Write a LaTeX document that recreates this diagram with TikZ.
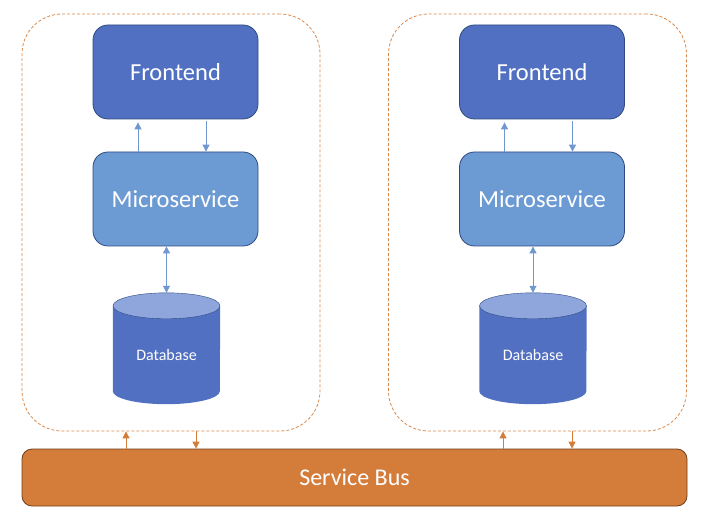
\documentclass[tikz,border=0pt]{standalone}
\usepackage{fontspec}
\setmainfont{Carlito}
\usetikzlibrary{arrows.meta, positioning}

\definecolor{frontblue}{HTML}{5170C1}
\definecolor{microblue}{HTML}{6C9AD3}
\definecolor{edgeblue}{HTML}{2F4A80}
\definecolor{dbtop}{HTML}{8FA6DC}
\definecolor{arrowblue}{HTML}{6F98D1}
\definecolor{busorange}{HTML}{D47C3A}
\definecolor{busedge}{HTML}{70401A}
\definecolor{dashorange}{HTML}{D8884A}

\begin{document}
\begin{tikzpicture}[x=1pt, y=1pt,
  container/.style = {draw=dashorange, dash pattern=on 3pt off 2pt, line width=0.8pt,
                      rounded corners=40pt, minimum width=298pt, minimum height=417pt},
  tier/.style = {draw=edgeblue, line width=0.8pt, rounded corners=15pt, text=white,
                 minimum width=165pt, minimum height=94pt, font=\fontsize{24.5}{28}\selectfont},
  dbnode/.style = {minimum width=107pt, minimum height=111pt, text=white,
                   font=\fontsize{16}{19}\selectfont},
  barrow/.style = {draw=arrowblue, line width=0.9pt, -{Triangle[width=7pt, length=7pt]}},
  oarrow/.style = {draw=busorange, line width=0.9pt, -{Triangle[width=7pt, length=7pt]}}]
\useasboundingbox (0,0) rectangle (708,522);

% containers
\node[container] (box1) at (171,299.5) {};
\node[container] (box2) at (537.5,299.5) {};

% left stack
\node[tier, fill=frontblue] (front1) at (175.5,450) {Frontend};
\node[tier, fill=microblue] (micro1) at (175.5,323) {Microservice};
\node[dbnode] (db1) at (166.5,173.5) {};

% right stack
\node[tier, fill=frontblue] (front2) at (542,450) {Frontend};
\node[tier, fill=microblue] (micro2) at (542,323) {Microservice};
\node[dbnode] (db2) at (533,173.5) {};

% database cylinders
\fill[frontblue] ([yshift=-13pt]db1.north west) -- ([yshift=13pt]db1.south west)
  arc[start angle=180, end angle=360, x radius=53.5pt, y radius=13pt]
  -- ([yshift=-13pt]db1.north east) -- cycle;
\fill[dbtop] ([yshift=-13pt]db1.north) ellipse[x radius=53.5pt, y radius=13pt];
\draw[edgeblue, line width=0.4pt] ([yshift=-13pt]db1.north) ellipse[x radius=53.5pt, y radius=13pt];
\node[dbnode, yshift=-7pt] at (db1) {Database};
\fill[frontblue] ([yshift=-13pt]db2.north west) -- ([yshift=13pt]db2.south west)
  arc[start angle=180, end angle=360, x radius=53.5pt, y radius=13pt]
  -- ([yshift=-13pt]db2.north east) -- cycle;
\fill[dbtop] ([yshift=-13pt]db2.north) ellipse[x radius=53.5pt, y radius=13pt];
\draw[edgeblue, line width=0.4pt] ([yshift=-13pt]db2.north) ellipse[x radius=53.5pt, y radius=13pt];
\node[dbnode, yshift=-7pt] at (db2) {Database};

% service bus
\node[draw=busedge, fill=busorange, line width=0.8pt, rounded corners=10pt,
      minimum width=665pt, minimum height=57pt, text=white,
      font=\fontsize{24}{28}\selectfont] (bus) at (354.5,44.5) {Service Bus};

% arrows, left
\draw[barrow] ([xshift=-37.5pt]micro1.north) -- ([xshift=-37.5pt, yshift=-3pt]front1.south);
\draw[barrow] ([xshift=30.5pt, yshift=-2pt]front1.south) -- ([xshift=30.5pt]micro1.north);
\draw[barrow, {Triangle[width=7pt, length=7pt]}-{Triangle[width=7pt, length=7pt]}] (micro1.south -| db1.north) -- (db1.north);
\draw[oarrow] ([xshift=-45pt]bus.north -| box1.south) -- ([xshift=-45pt]box1.south);
\draw[oarrow] ([xshift=25pt]box1.south) -- ([xshift=25pt]bus.north -| box1.south);

% arrows, right
\draw[barrow] ([xshift=-37.5pt]micro2.north) -- ([xshift=-37.5pt, yshift=-3pt]front2.south);
\draw[barrow] ([xshift=30.5pt, yshift=-2pt]front2.south) -- ([xshift=30.5pt]micro2.north);
\draw[barrow, {Triangle[width=7pt, length=7pt]}-{Triangle[width=7pt, length=7pt]}] (micro2.south -| db2.north) -- (db2.north);
\draw[oarrow] ([xshift=-34.5pt]bus.north -| box2.south) -- ([xshift=-34.5pt]box2.south);
\draw[oarrow] ([xshift=34.5pt]box2.south) -- ([xshift=34.5pt]bus.north -| box2.south);
\end{tikzpicture}
\end{document}
